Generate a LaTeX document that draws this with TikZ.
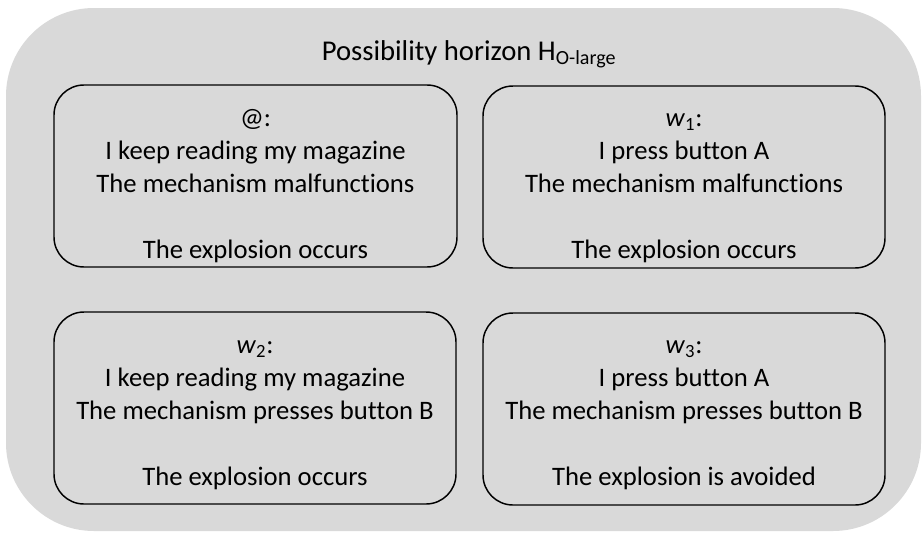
\documentclass[tikz,border=0pt]{standalone}
\usepackage{fontspec}
\setmainfont[Ligatures=NoCommon]{Carlito}
\definecolor{horizonfill}{HTML}{D9D9D9}
\begin{document}
\begin{tikzpicture}[x=0.75pt,y=-0.75pt,
  horizon/.style={fill=horizonfill, rounded corners=66pt},
  world/.style={draw=black, line width=1.1pt, rounded corners=22.5pt},
  worldtext/.style={anchor=north, align=center, inner sep=0pt,
    font=\fontsize{20}{24.75}\selectfont},
  titletext/.style={anchor=base, inner sep=0pt,
    font=\fontsize{21.5}{26}\selectfont},
]
\useasboundingbox (0,0) rectangle (923,532);

% the possibility horizon
\fill[horizon] (6,8) rectangle (921,531);
\node[titletext] (title) at (469,60) {Possibility horizon H\textsubscript{O-large}};

% the four worlds
\draw[world] (54,85) rectangle (457,267);
\draw[world] (483,86) rectangle (885,268);
\draw[world] (54,312) rectangle (456,504);
\draw[world] (483,313) rectangle (885,505);

\node[worldtext] (actual) at (255.5,102.9)
  {\strut @:\\ I keep reading my magazine\\ The mechanism malfunctions\\[24.75pt] The explosion occurs};
\node[worldtext] (w1) at (684,102.9)
  {\strut \textit{w}\textsubscript{1}:\\ I press button A\\ The mechanism malfunctions\\[24.75pt] The explosion occurs};
\node[worldtext] (w2) at (255,329.9)
  {\strut \textit{w}\textsubscript{2}:\\ I keep reading my magazine\\ The mechanism presses button B\\[24.75pt] The explosion occurs};
\node[worldtext] (w3) at (684,329.9)
  {\strut \textit{w}\textsubscript{3}:\\ I press button A\\ The mechanism presses button B\\[24.75pt] The explosion is avoided};
\end{tikzpicture}
\end{document}
